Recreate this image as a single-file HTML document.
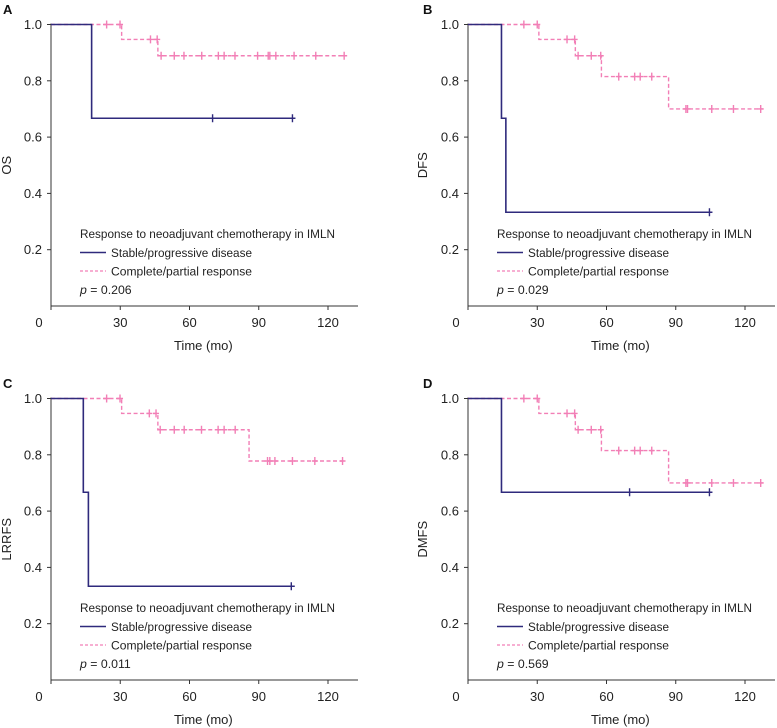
<!DOCTYPE html>
<html><head><meta charset="utf-8"><style>
body{margin:0;background:#fff;}
svg{display:block;font-family:"Liberation Sans",sans-serif;}
</style></head><body>
<svg id="chart" width="777" height="728" viewBox="0 0 777 728"></svg>
<script>
// ---- data ----
const panelLetters = ["A","B","C","D"];
const yTitles = ["OS","DFS","LRRFS","DMFS"];
const pValues = ["0.206","0.029","0.011","0.569"];
const xTicks = [0,30,60,90,120];
const yTicks = [0.2,0.4,0.6,0.8,1.0];
// stable/progressive disease: event times, survival after event, censor times, end time
const sdEventT = [[17.6],[14.5,16.4],[14,16.2],[14.5]];
const sdEventS = [[0.667],[0.667,0.333],[0.667,0.333],[0.667]];
const sdCensor = [[70,104.6],[104.6],[104.1],[70,104.6]];
const sdEnd = [105.6,105.7,105.6,105.7];
// complete/partial response
const cpEventT = [[30.6,46.3],[30.7,46.5,57.8,86.9],[30.6,46.3,85.8],[30.7,46.5,57.8,86.9]];
const cpEventS = [[0.947,0.889],[0.947,0.889,0.815,0.70],[0.947,0.889,0.778],[0.947,0.889,0.815,0.70]];
const cpCensor = [
 [24.1,29.9,43.1,46.0,47.7,53.4,57.6,65.3,72.5,75,79.7,89.5,94.1,94.8,97.4,105.3,114.7,127],
 [24.2,30,42.9,46.2,47.7,53.4,57.5,65.3,72.2,74.6,79.6,94.4,95.1,105.6,115,126.8],
 [24.1,29.9,42.6,45.5,47.3,53.4,57.7,65.2,72.4,75,79.8,93.8,94.8,97,104.6,114.3,126.3],
 [24.2,30,42.9,46.2,47.7,53.4,57.5,65.3,72.2,74.6,79.6,94.4,95.1,105.6,115,126.8]];
const cpEnd = [128,128,127.7,128];

const NS="http://www.w3.org/2000/svg";
const svg=document.getElementById('chart');
const NAVY="#2f2a7c", PINK="#f27fb6", AX="#333";
function mk(tag,attrs,parent){const e=document.createElementNS(NS,tag);for(const k in attrs)e.setAttribute(k,attrs[k]);(parent||svg).appendChild(e);return e;}

const offX=[0,417,0,417], offY=[0,0,374,374];
for(let p=0;p<4;p++){
  const ox=offX[p], oy=offY[p];
  const g=mk('g',{});
  
  
  const x0=51+ox, x1=328+ox, y1=24.5+oy, y0=306+oy;
  const X=t=>x0+(x1-x0)*t/120;
  const Y=s=>y0-(y0-y1)*s;
  let t=mk('text',{x:(p%2?6:3)+ox,y:14+oy,'font-size':13,'font-weight':'bold',fill:'#111'},g);t.textContent=panelLetters[p];
  
  
  let a=mk('path',{d:`M${x0},${y1-1}V${y0}H${x0+307}`,stroke:AX,fill:'none','stroke-width':1},g);
  
  
  for(const v of yTicks){
    mk('line',{x1:x0-4,x2:x0,y1:Y(v),y2:Y(v),stroke:AX},g);
    let l=mk('text',{x:x0-9,y:Y(v)+4.5,'text-anchor':'end','font-size':13,fill:'#222'},g);l.textContent=v.toFixed(1);
    
    
  }
  for(const v of xTicks){
    mk('line',{x1:X(v),x2:X(v),y1:y0,y2:y0+4,stroke:AX},g);
    let l=mk('text',{x:v===0?X(v)-12:X(v),y:y0+21,'text-anchor':'middle','font-size':13,fill:'#222'},g);l.textContent=v;
    
    
  }
  let xt=mk('text',{x:X(66),y:y0+44,'text-anchor':'middle','font-size':13,fill:'#222'},g);xt.textContent='Time (mo)';
  
  
  const yx=(p%2?423:7), yc=(y0+y1)/2;
  let yt=mk('text',{x:yx,y:yc,'text-anchor':'middle','font-size':13,fill:'#222',transform:`rotate(-90 ${yx} ${yc})`,dy:4},g);yt.textContent=yTitles[p];
  
  
  function curve(ts,ss,cens,end,color,dash,name){
    let d=`M${X(0)},${Y(1)}`;
    for(let i=0;i<ts.length;i++){d+=`H${X(ts[i])}V${Y(ss[i])}`;}
    d+=`H${X(end)}`;
    const c=mk('path',{d,stroke:color,fill:'none','stroke-width':dash?1.4:1.6,'stroke-dasharray':dash?'4 2.5':'none'},g);
    
    
    for(const ct of cens){
      let sv=1;for(let i=0;i<ts.length;i++)if(ts[i]<=ct)sv=ss[i];
      const m=mk('path',{d:`M${X(ct)},${Y(sv)-4}v8M${X(ct)-3},${Y(sv)}h6`,stroke:color,'stroke-width':1.4},g);
      
      
    }
  }
  curve(cpEventT[p],cpEventS[p],cpCensor[p],cpEnd[p],PINK,true,'complete-partial');
  curve(sdEventT[p],sdEventS[p],sdCensor[p],sdEnd[p],NAVY,false,'stable-progressive');
  const lx=x0+29, ly=y0-68;
  const lg=mk('g',{},g);
  
  
  let lt=mk('text',{x:lx,y:ly,'font-size':12.3,fill:'#222',textLength:255,lengthAdjust:'spacingAndGlyphs'},lg);lt.textContent='Response to neoadjuvant chemotherapy in IMLN';
  
  
  mk('line',{x1:lx,x2:lx+26,y1:ly+14.5,y2:ly+14.5,stroke:NAVY,'stroke-width':1.6},lg);
  let e1=mk('text',{x:lx+31,y:ly+19,'font-size':12.3,fill:'#222',textLength:141,lengthAdjust:'spacingAndGlyphs'},lg);e1.textContent='Stable/progressive disease';
  
  
  mk('line',{x1:lx,x2:lx+26,y1:ly+33,y2:ly+33,stroke:PINK,'stroke-width':1.3,'stroke-dasharray':'3 2'},lg);
  let e2=mk('text',{x:lx+31,y:ly+37.5,'font-size':12.3,fill:'#222',textLength:141,lengthAdjust:'spacingAndGlyphs'},lg);e2.textContent='Complete/partial response';
  
  
  let pv=mk('text',{x:lx,y:ly+56,'font-size':12.3,fill:'#222'},lg);
  pv.innerHTML='<tspan font-style="italic">p</tspan> = '+pValues[p];
  
  
}
</script>
</body></html>
